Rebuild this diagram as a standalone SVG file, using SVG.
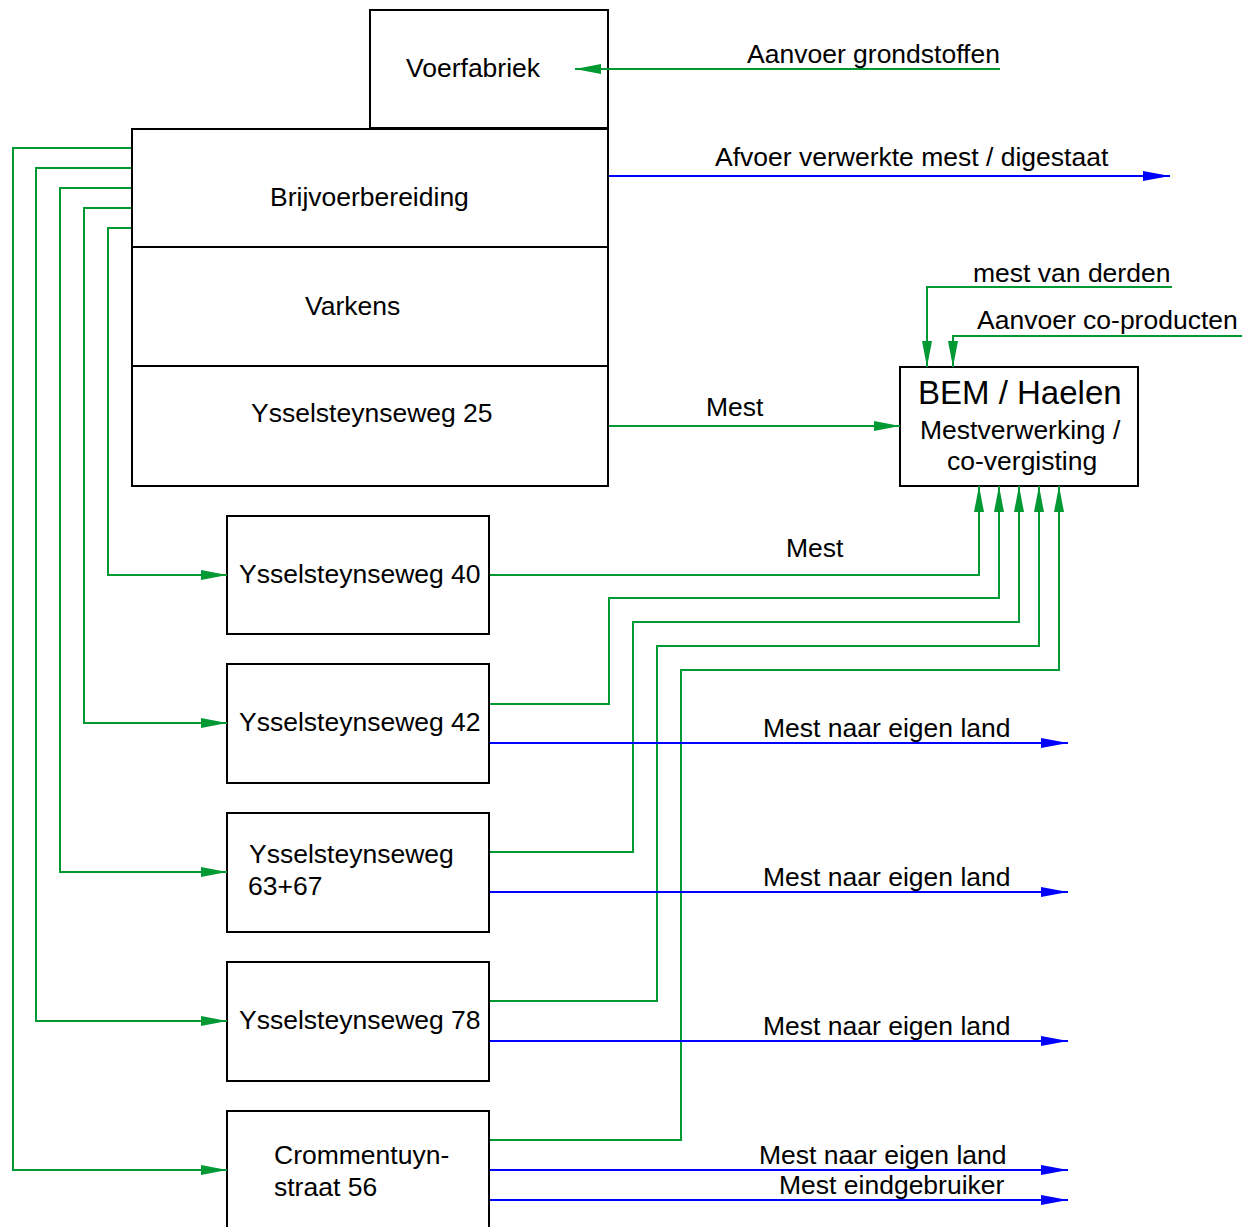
<svg xmlns="http://www.w3.org/2000/svg" width="1250" height="1227" viewBox="0 0 1250 1227">
<style>
text{font-family:"Liberation Sans",Arial,sans-serif;font-size:26.5px;fill:#000}
.box{fill:#fff;stroke:#000;stroke-width:2}
.g{fill:none;stroke:#009933;stroke-width:2}
.b{fill:none;stroke:#0000ff;stroke-width:2}
.ga{marker-end:url(#ag)}
.ba{marker-end:url(#ab)}
</style>
<defs>
<marker id="ag" markerUnits="userSpaceOnUse" markerWidth="26" markerHeight="10" refX="26" refY="5" orient="auto"><path d="M0,0 L26,5 L0,10 z" fill="#009933"/></marker>
<marker id="ab" markerUnits="userSpaceOnUse" markerWidth="27" markerHeight="10" refX="27" refY="5" orient="auto"><path d="M0,0 L27,5 L0,10 z" fill="#0000ff"/></marker>
</defs>
<rect width="1250" height="1227" fill="#fff"/>
<g id="voerfabriek"><rect class="box" x="370" y="10" width="238" height="118"/><text x="406" y="77">Voerfabriek</text></g>
<g id="brijvoerbereiding"><rect class="box" x="132" y="129" width="476" height="118"/><text x="270" y="206">Brijvoerbereiding</text></g>
<g id="varkens"><rect class="box" x="132" y="247" width="476" height="119"/><text x="305" y="315">Varkens</text></g>
<g id="ysselsteynseweg25"><rect class="box" x="132" y="366" width="476" height="120"/><text x="251" y="422">Ysselsteynseweg 25</text></g>
<g id="bem"><rect class="box" x="900" y="367" width="238" height="119"/><text x="918" y="404" style="font-size:33px">BEM / Haelen</text><text x="920" y="439">Mestverwerking /</text><text x="947" y="470">co-vergisting</text></g>
<g id="ysselsteynseweg40"><rect class="box" x="227" y="516" width="262" height="118"/><text x="239" y="583">Ysselsteynseweg 40</text></g>
<g id="ysselsteynseweg42"><rect class="box" x="227" y="664" width="262" height="119"/><text x="239" y="731">Ysselsteynseweg 42</text></g>
<g id="ysselsteynseweg6367"><rect class="box" x="227" y="813" width="262" height="119"/><text x="249" y="863">Ysselsteynseweg</text><text x="248" y="895">63+67</text></g>
<g id="ysselsteynseweg78"><rect class="box" x="227" y="962" width="262" height="119"/><text x="239" y="1029">Ysselsteynseweg 78</text></g>
<g id="crommentuynstraat56"><rect class="box" x="227" y="1111" width="262" height="130"/><text x="274" y="1164">Crommentuyn-</text><text x="274" y="1196">straat 56</text></g>
<g id="connectors">
<polyline class="g ga" points="1000,69 575,69"/>
<polyline class="b ba" points="609,176 1170,176"/>
<polyline class="g ga" points="1172,287 927,287 927,367"/>
<polyline class="g ga" points="1242,336 953,336 953,367"/>
<polyline class="g ga" points="609,426 900,426"/>
<polyline class="g ga" points="131,148 13,148 13,1170 227,1170"/>
<polyline class="g ga" points="131,168 36,168 36,1021 227,1021"/>
<polyline class="g ga" points="131,188 60,188 60,872 227,872"/>
<polyline class="g ga" points="131,208 84,208 84,723 227,723"/>
<polyline class="g ga" points="131,228 108,228 108,575 227,575"/>
<polyline class="g ga" points="490,575 979,575 979,486"/>
<polyline class="g ga" points="490,704 609,704 609,598 999,598 999,486"/>
<polyline class="g ga" points="490,852 633,852 633,622 1019,622 1019,486"/>
<polyline class="g ga" points="490,1001 657,1001 657,646 1039,646 1039,486"/>
<polyline class="g ga" points="490,1140 681,1140 681,670 1059,670 1059,486"/>
<polyline class="b ba" points="490,743 1068,743"/>
<polyline class="b ba" points="490,892 1068,892"/>
<polyline class="b ba" points="490,1041 1068,1041"/>
<polyline class="b ba" points="490,1170 1068,1170"/>
<polyline class="b ba" points="490,1200 1068,1200"/>
<text x="747" y="63">Aanvoer grondstoffen</text>
<text x="715" y="166">Afvoer verwerkte mest / digestaat</text>
<text x="973" y="282">mest van derden</text>
<text x="977" y="329">Aanvoer co-producten</text>
<text x="706" y="416">Mest</text>
<text x="786" y="557">Mest</text>
<text x="763" y="737">Mest naar eigen land</text>
<text x="763" y="886">Mest naar eigen land</text>
<text x="763" y="1035">Mest naar eigen land</text>
<text x="759" y="1164">Mest naar eigen land</text>
<text x="779" y="1194">Mest eindgebruiker</text>
</g>
</svg>
